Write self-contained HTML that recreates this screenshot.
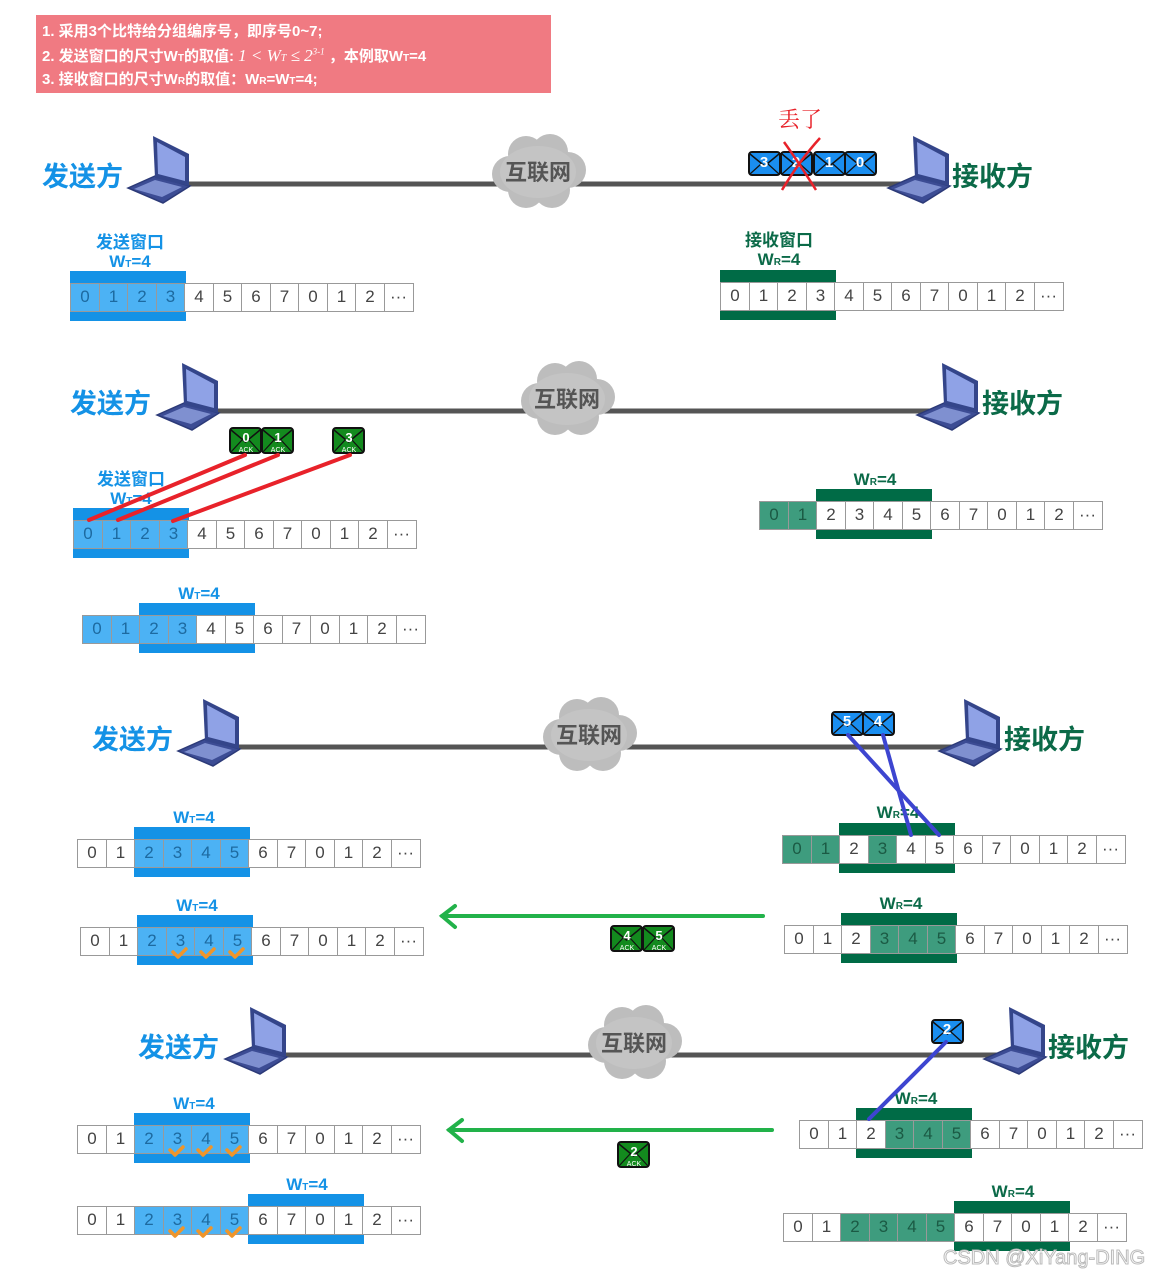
<!DOCTYPE html>
<html><head><meta charset="utf-8">
<style>
*{margin:0;padding:0;box-sizing:border-box}
body{width:1153px;height:1276px;background:#fff;position:relative;overflow:hidden;font-family:"Liberation Sans","Noto Sans CJK SC",sans-serif}
.s{position:absolute;display:flex;height:29px;z-index:2}
.s span{width:30px;height:29px;border:1.5px solid #999;margin-left:-1.5px;background:#fff;color:#444;font-size:17px;line-height:26px;text-align:center}
.s span:first-child{margin-left:0}
.s span.b{background:#4cb2f4;color:#1d6aa0}
.s span.g{background:#3e9c7e;color:#1b5a44}
.wb{position:absolute;height:50px;width:115.5px;background:#1492e6;z-index:1}
.wg{position:absolute;height:50px;width:115.5px;background:#006b46;z-index:1}
.lb{position:absolute;color:#1492e6;font-weight:bold;font-size:17px;transform:translateX(-50%);white-space:nowrap}
.lg{position:absolute;color:#0b6a48;font-weight:bold;font-size:17px;transform:translateX(-50%);white-space:nowrap}
sub{font-size:10px;vertical-align:baseline;line-height:0}
sup{line-height:0}
.note{position:absolute;left:36px;top:15px;width:515px;height:78px;background:#f07a82;color:#fff;font-weight:bold;font-size:15px;line-height:24px;padding:5px 0 0 6px}
.note div{height:24px;white-space:nowrap}
.snd{position:absolute;color:#1492e6;font-weight:bold;font-size:27px}
.rcv{position:absolute;color:#0b6a48;font-weight:bold;font-size:27px}
svg{position:absolute;left:0;top:0;z-index:3}
</style></head><body>
<div class="note"><div>1. 采用3个比特给分组编序号，即序号0~7;</div><div>2. 发送窗口的尺寸W<sub>T</sub>的取值: <i style="font-family:'Liberation Serif',serif;font-weight:normal;font-size:17px">1 &lt; W<sub>T</sub> ≤ 2<sup style="font-size:9px">3-1</sup></i> ，本例取W<sub>T</sub>=4</div><div>3. 接收窗口的尺寸W<sub>R</sub>的取值：W<sub>R</sub>=W<sub>T</sub>=4;</div></div>

<div class="snd" style="left:42px;top:155px">发送方</div>
<div class="rcv" style="left:952px;top:155px">接收方</div>
<div class="snd" style="left:70px;top:382px">发送方</div>
<div class="rcv" style="left:982px;top:382px">接收方</div>
<div class="snd" style="left:92px;top:718px">发送方</div>
<div class="rcv" style="left:1004px;top:718px">接收方</div>
<div class="snd" style="left:138px;top:1026px">发送方</div>
<div class="rcv" style="left:1048px;top:1026px">接收方</div>

<!-- S1 -->
<div class="lb" style="left:130px;top:228px">发送窗口</div>
<div class="lb" style="left:130px;top:252px">W<sub>T</sub>=4</div>
<div class="wb" style="left:70px;top:271px"></div>
<div class="s" style="left:70px;top:283px"><span class="b">0</span><span class="b">1</span><span class="b">2</span><span class="b">3</span><span>4</span><span>5</span><span>6</span><span>7</span><span>0</span><span>1</span><span>2</span><span>···</span></div>
<!-- R1 -->
<div class="lg" style="left:779px;top:226px">接收窗口</div>
<div class="lg" style="left:779px;top:250px">W<sub>R</sub>=4</div>
<div class="wg" style="left:720px;top:270px"></div>
<div class="s" style="left:720px;top:282px"><span>0</span><span>1</span><span>2</span><span>3</span><span>4</span><span>5</span><span>6</span><span>7</span><span>0</span><span>1</span><span>2</span><span>···</span></div>
<!-- S2a -->
<div class="lb" style="left:131px;top:465px">发送窗口</div>
<div class="lb" style="left:131px;top:489px">W<sub>T</sub>=4</div>
<div class="wb" style="left:73px;top:508px"></div>
<div class="s" style="left:73px;top:520px"><span class="b">0</span><span class="b">1</span><span class="b">2</span><span class="b">3</span><span>4</span><span>5</span><span>6</span><span>7</span><span>0</span><span>1</span><span>2</span><span>···</span></div>
<!-- R2 -->
<div class="lg" style="left:875px;top:470px">W<sub>R</sub>=4</div>
<div class="wg" style="left:816px;top:489px"></div>
<div class="s" style="left:759px;top:501px"><span class="g">0</span><span class="g">1</span><span>2</span><span>3</span><span>4</span><span>5</span><span>6</span><span>7</span><span>0</span><span>1</span><span>2</span><span>···</span></div>
<!-- S2b -->
<div class="lb" style="left:199px;top:584px">W<sub>T</sub>=4</div>
<div class="wb" style="left:139px;top:603px"></div>
<div class="s" style="left:82px;top:615px"><span class="b">0</span><span class="b">1</span><span class="b">2</span><span class="b">3</span><span>4</span><span>5</span><span>6</span><span>7</span><span>0</span><span>1</span><span>2</span><span>···</span></div>
<!-- S3a -->
<div class="lb" style="left:194px;top:808px">W<sub>T</sub>=4</div>
<div class="wb" style="left:134px;top:827px"></div>
<div class="s" style="left:77px;top:839px"><span>0</span><span>1</span><span class="b">2</span><span class="b">3</span><span class="b">4</span><span class="b">5</span><span>6</span><span>7</span><span>0</span><span>1</span><span>2</span><span>···</span></div>
<!-- R3a -->
<div class="lg" style="left:898px;top:803px">W<sub>R</sub>=4</div>
<div class="wg" style="left:839px;top:823px"></div>
<div class="s" style="left:782px;top:835px"><span class="g">0</span><span class="g">1</span><span>2</span><span class="g">3</span><span>4</span><span>5</span><span>6</span><span>7</span><span>0</span><span>1</span><span>2</span><span>···</span></div>
<!-- S3b -->
<div class="lb" style="left:197px;top:896px">W<sub>T</sub>=4</div>
<div class="wb" style="left:137px;top:915px"></div>
<div class="s" style="left:80px;top:927px"><span>0</span><span>1</span><span class="b">2</span><span class="b">3</span><span class="b">4</span><span class="b">5</span><span>6</span><span>7</span><span>0</span><span>1</span><span>2</span><span>···</span></div>
<!-- R3b -->
<div class="lg" style="left:901px;top:894px">W<sub>R</sub>=4</div>
<div class="wg" style="left:841px;top:913px"></div>
<div class="s" style="left:784px;top:925px"><span>0</span><span>1</span><span>2</span><span class="g">3</span><span class="g">4</span><span class="g">5</span><span>6</span><span>7</span><span>0</span><span>1</span><span>2</span><span>···</span></div>
<!-- S4a -->
<div class="lb" style="left:194px;top:1094px">W<sub>T</sub>=4</div>
<div class="wb" style="left:134px;top:1113px"></div>
<div class="s" style="left:77px;top:1125px"><span>0</span><span>1</span><span class="b">2</span><span class="b">3</span><span class="b">4</span><span class="b">5</span><span>6</span><span>7</span><span>0</span><span>1</span><span>2</span><span>···</span></div>
<!-- R4a -->
<div class="lg" style="left:916px;top:1089px">W<sub>R</sub>=4</div>
<div class="wg" style="left:856px;top:1108px"></div>
<div class="s" style="left:799px;top:1120px"><span>0</span><span>1</span><span>2</span><span class="g">3</span><span class="g">4</span><span class="g">5</span><span>6</span><span>7</span><span>0</span><span>1</span><span>2</span><span>···</span></div>
<!-- S4b -->
<div class="lb" style="left:307px;top:1175px">W<sub>T</sub>=4</div>
<div class="wb" style="left:248px;top:1194px"></div>
<div class="s" style="left:77px;top:1206px"><span>0</span><span>1</span><span class="b">2</span><span class="b">3</span><span class="b">4</span><span class="b">5</span><span>6</span><span>7</span><span>0</span><span>1</span><span>2</span><span>···</span></div>
<!-- R4b -->
<div class="lg" style="left:1013px;top:1182px">W<sub>R</sub>=4</div>
<div class="wg" style="left:954px;top:1201px"></div>
<div class="s" style="left:783px;top:1213px"><span>0</span><span>1</span><span class="g">2</span><span class="g">3</span><span class="g">4</span><span class="g">5</span><span>6</span><span>7</span><span>0</span><span>1</span><span>2</span><span>···</span></div>

<svg width="1153" height="1276" viewBox="0 0 1153 1276">
<defs>
<g id="lap">
 <polygon points="0,52 27,40 62,50 35,67" fill="#3c4c94" stroke="#2c3a78" stroke-width="1.5"/>
 <polygon points="6,53 27,44 54,51 34,61" fill="#7f90d0"/>
 <polygon points="25,0 61,18 61,50 27,42" fill="#34458a"/>
 <polygon points="29,6 57,21 57,45 30,38" fill="#8fa2e6"/>
</g>
<g id="cloud">
 <circle cx="-28" cy="2" r="18" fill="#bdbdbd"/><circle cx="-12" cy="-18" r="18" fill="#bdbdbd"/>
 <circle cx="12" cy="-20" r="18" fill="#bdbdbd"/><circle cx="30" cy="-2" r="18" fill="#bdbdbd"/>
 <circle cx="14" cy="18" r="18" fill="#bdbdbd"/><circle cx="-12" cy="18" r="18" fill="#bdbdbd"/>
 <ellipse cx="0" cy="0" rx="38" ry="26" fill="#c4c4c4"/>
</g>
<g id="env"><rect x="0" y="0" width="31" height="23" rx="3" fill="#1a8ef0" stroke="#111" stroke-width="2"/><polyline points="1,2 15.5,14 30,2" fill="none" stroke="#111" stroke-width="1.5"/><line x1="1" y1="22" x2="12" y2="12" stroke="#111" stroke-width="1.2"/><line x1="30" y1="22" x2="19" y2="12" stroke="#111" stroke-width="1.2"/></g>
<g id="ack"><rect x="0" y="0" width="31" height="25" rx="3" fill="#138a1e" stroke="#111" stroke-width="2"/><polyline points="1,2 15.5,14 30,2" fill="none" stroke="#111" stroke-width="1.5"/><line x1="1" y1="24" x2="12" y2="12" stroke="#111" stroke-width="1.2"/><line x1="30" y1="24" x2="19" y2="12" stroke="#111" stroke-width="1.2"/></g>
<g id="chk"><polyline points="0,4 5,9 13,1" fill="none" stroke="#f0952a" stroke-width="3.5" stroke-linecap="round" stroke-linejoin="round"/></g>
</defs>
<g stroke="#555" stroke-width="5">
<line x1="185" y1="184" x2="905" y2="184"/>
<line x1="215" y1="411" x2="935" y2="411"/>
<line x1="237" y1="747" x2="955" y2="747"/>
<line x1="283" y1="1055" x2="1000" y2="1055"/>
</g>
<use href="#lap" x="128" y="136"/><use href="#lap" x="888" y="136"/>
<use href="#lap" x="157" y="363"/><use href="#lap" x="917" y="363"/>
<use href="#lap" x="178" y="699"/><use href="#lap" x="939" y="699"/>
<use href="#lap" x="225" y="1007"/><use href="#lap" x="984" y="1007"/>
<use href="#cloud" x="538" y="172"/><use href="#cloud" x="567" y="399"/>
<use href="#cloud" x="589" y="735"/><use href="#cloud" x="634" y="1043"/>
<g font-family="Liberation Sans,Noto Sans CJK SC,sans-serif" font-weight="bold" font-size="22" fill="#555" text-anchor="middle">
<text x="538" y="180">互联网</text><text x="567" y="407">互联网</text>
<text x="589" y="743">互联网</text><text x="634" y="1051">互联网</text>
</g>
<g font-family="Liberation Sans,sans-serif" font-weight="bold" font-size="15" fill="#fff" text-anchor="middle">
<use href="#env" x="749" y="152"/><text x="764" y="167">3</text>
<use href="#env" x="781" y="152"/><text x="796" y="167">2</text>
<use href="#env" x="814" y="152"/><text x="829" y="167">1</text>
<use href="#env" x="845" y="152"/><text x="860" y="167">0</text>
<use href="#env" x="832" y="712"/><text x="847" y="726">5</text>
<use href="#env" x="863" y="712"/><text x="878" y="726">4</text>
<use href="#env" x="932" y="1020"/><text x="947" y="1034">2</text>
</g>
<path d="M784,142 Q797,160 816,190 M820,138 Q800,160 782,190" stroke="#e8222a" stroke-width="2.5" fill="none"/>
<text x="800" y="127" font-family="Noto Serif CJK SC,serif" font-size="22" fill="#e8222a" text-anchor="middle">丢了</text>
<g font-family="Liberation Sans,sans-serif" fill="#fff" text-anchor="middle">
<use href="#ack" x="230" y="428"/><text x="246" y="442" font-size="13" font-weight="bold">0</text><text x="246" y="452" font-size="7">ACK</text>
<use href="#ack" x="262" y="428"/><text x="278" y="442" font-size="13" font-weight="bold">1</text><text x="278" y="452" font-size="7">ACK</text>
<use href="#ack" x="333" y="428"/><text x="349" y="442" font-size="13" font-weight="bold">3</text><text x="349" y="452" font-size="7">ACK</text>
<use href="#ack" x="611" y="926"/><text x="627" y="940" font-size="13" font-weight="bold">4</text><text x="627" y="950" font-size="7">ACK</text>
<use href="#ack" x="643" y="926"/><text x="659" y="940" font-size="13" font-weight="bold">5</text><text x="659" y="950" font-size="7">ACK</text>
<use href="#ack" x="618" y="1142"/><text x="634" y="1156" font-size="13" font-weight="bold">2</text><text x="634" y="1166" font-size="7">ACK</text>
</g>
<g stroke="#e8222a" stroke-width="4" stroke-linecap="round">
<line x1="245" y1="455" x2="89" y2="520"/><line x1="278" y1="455" x2="118" y2="520"/><line x1="350" y1="455" x2="173" y2="521"/>
</g>
<g stroke="#3d45d0" stroke-width="4" stroke-linecap="round">
<line x1="848" y1="735" x2="939" y2="835"/><line x1="883" y1="735" x2="911" y2="835"/>
<line x1="946" y1="1042" x2="869" y2="1119"/>
</g>
<g stroke="#22b24a" stroke-width="4" fill="none" stroke-linecap="round">
<line x1="763" y1="916" x2="442" y2="916"/><polyline points="455,906 442,916 455,927"/>
<line x1="772" y1="1130" x2="449" y2="1130"/><polyline points="462,1120 449,1130 462,1141"/>
</g>
<use href="#chk" x="173" y="948"/><use href="#chk" x="201" y="948"/><use href="#chk" x="230" y="948"/>
<use href="#chk" x="170" y="1146"/><use href="#chk" x="198" y="1146"/><use href="#chk" x="227" y="1146"/>
<use href="#chk" x="170" y="1227"/><use href="#chk" x="198" y="1227"/><use href="#chk" x="227" y="1227"/>
<text x="943" y="1264" font-family="Liberation Sans,sans-serif" font-size="20" fill="#fff" stroke="#bbb" stroke-width="1">CSDN @XiYang-DING</text>
</svg>
</body></html>
